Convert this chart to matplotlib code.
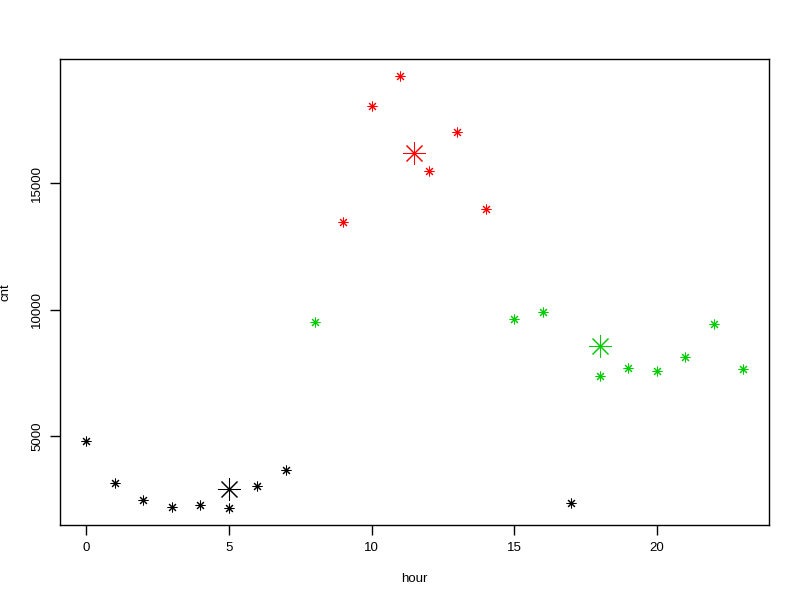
import numpy as np
import matplotlib.pyplot as plt

plt.rcParams['font.family'] = ['Liberation Sans', 'DejaVu Sans']

# hourly totals, with the cluster each hour was assigned to
hour = [0, 1, 2, 3, 4, 5, 6, 7, 8, 9, 10, 11,
        12, 13, 14, 15, 16, 17, 18, 19, 20, 21, 22, 23]
cnt = [4815, 3161, 2492, 2217, 2295, 2177, 3043, 3673, 9500, 13476, 18043, 19224,
       15484, 17020, 13988, 9618, 9894, 2346, 7374, 7717, 7583, 8150, 9449, 7677]
cluster = [1, 1, 1, 1, 1, 1, 1, 1, 3, 2, 2, 2,
           2, 2, 2, 3, 3, 1, 3, 3, 3, 3, 3, 3]
cluster_colors = {1: 'black', 2: '#FF0000', 3: '#00CD00'}

x = np.array(hour)
y = np.array(cnt)
cl = np.array(cluster)

fig = plt.figure(figsize=(8, 6), dpi=100)
ax = fig.add_axes([0.075, 0.125, 0.886, 0.7767])

asterisk = (8, 2, 0)
for k, col in cluster_colors.items():
    m = cl == k
    ax.plot(x[m], y[m], linestyle='none', marker=asterisk, markersize=7,
            markeredgewidth=0.75, color=col)
    # cluster centre
    ax.plot(x[m].mean(), y[m].mean(), linestyle='none', marker=asterisk,
            markersize=16, markeredgewidth=0.75, color=col)

# R style 4% padding
xr = x.max() - x.min()
yr = y.max() - y.min()
ax.set_xlim(x.min() - 0.04 * xr, x.max() + 0.04 * xr)
ax.set_ylim(y.min() - 0.04 * yr, y.max() + 0.04 * yr)

ax.set_xticks([0, 5, 10, 15, 20])
ax.set_yticks([5000, 10000, 15000])
ax.tick_params(direction='out', length=7, width=1, labelsize=9.5, pad=5)
for lab in ax.get_yticklabels():
    lab.set_rotation(90)
    lab.set_va('center')
for s in ax.spines.values():
    s.set_linewidth(1)

ax.set_xlabel('hour', fontsize=9.5, labelpad=14)
ax.set_ylabel('cnt', fontsize=9.5, labelpad=14)

fig.savefig('out.png', dpi=100)
